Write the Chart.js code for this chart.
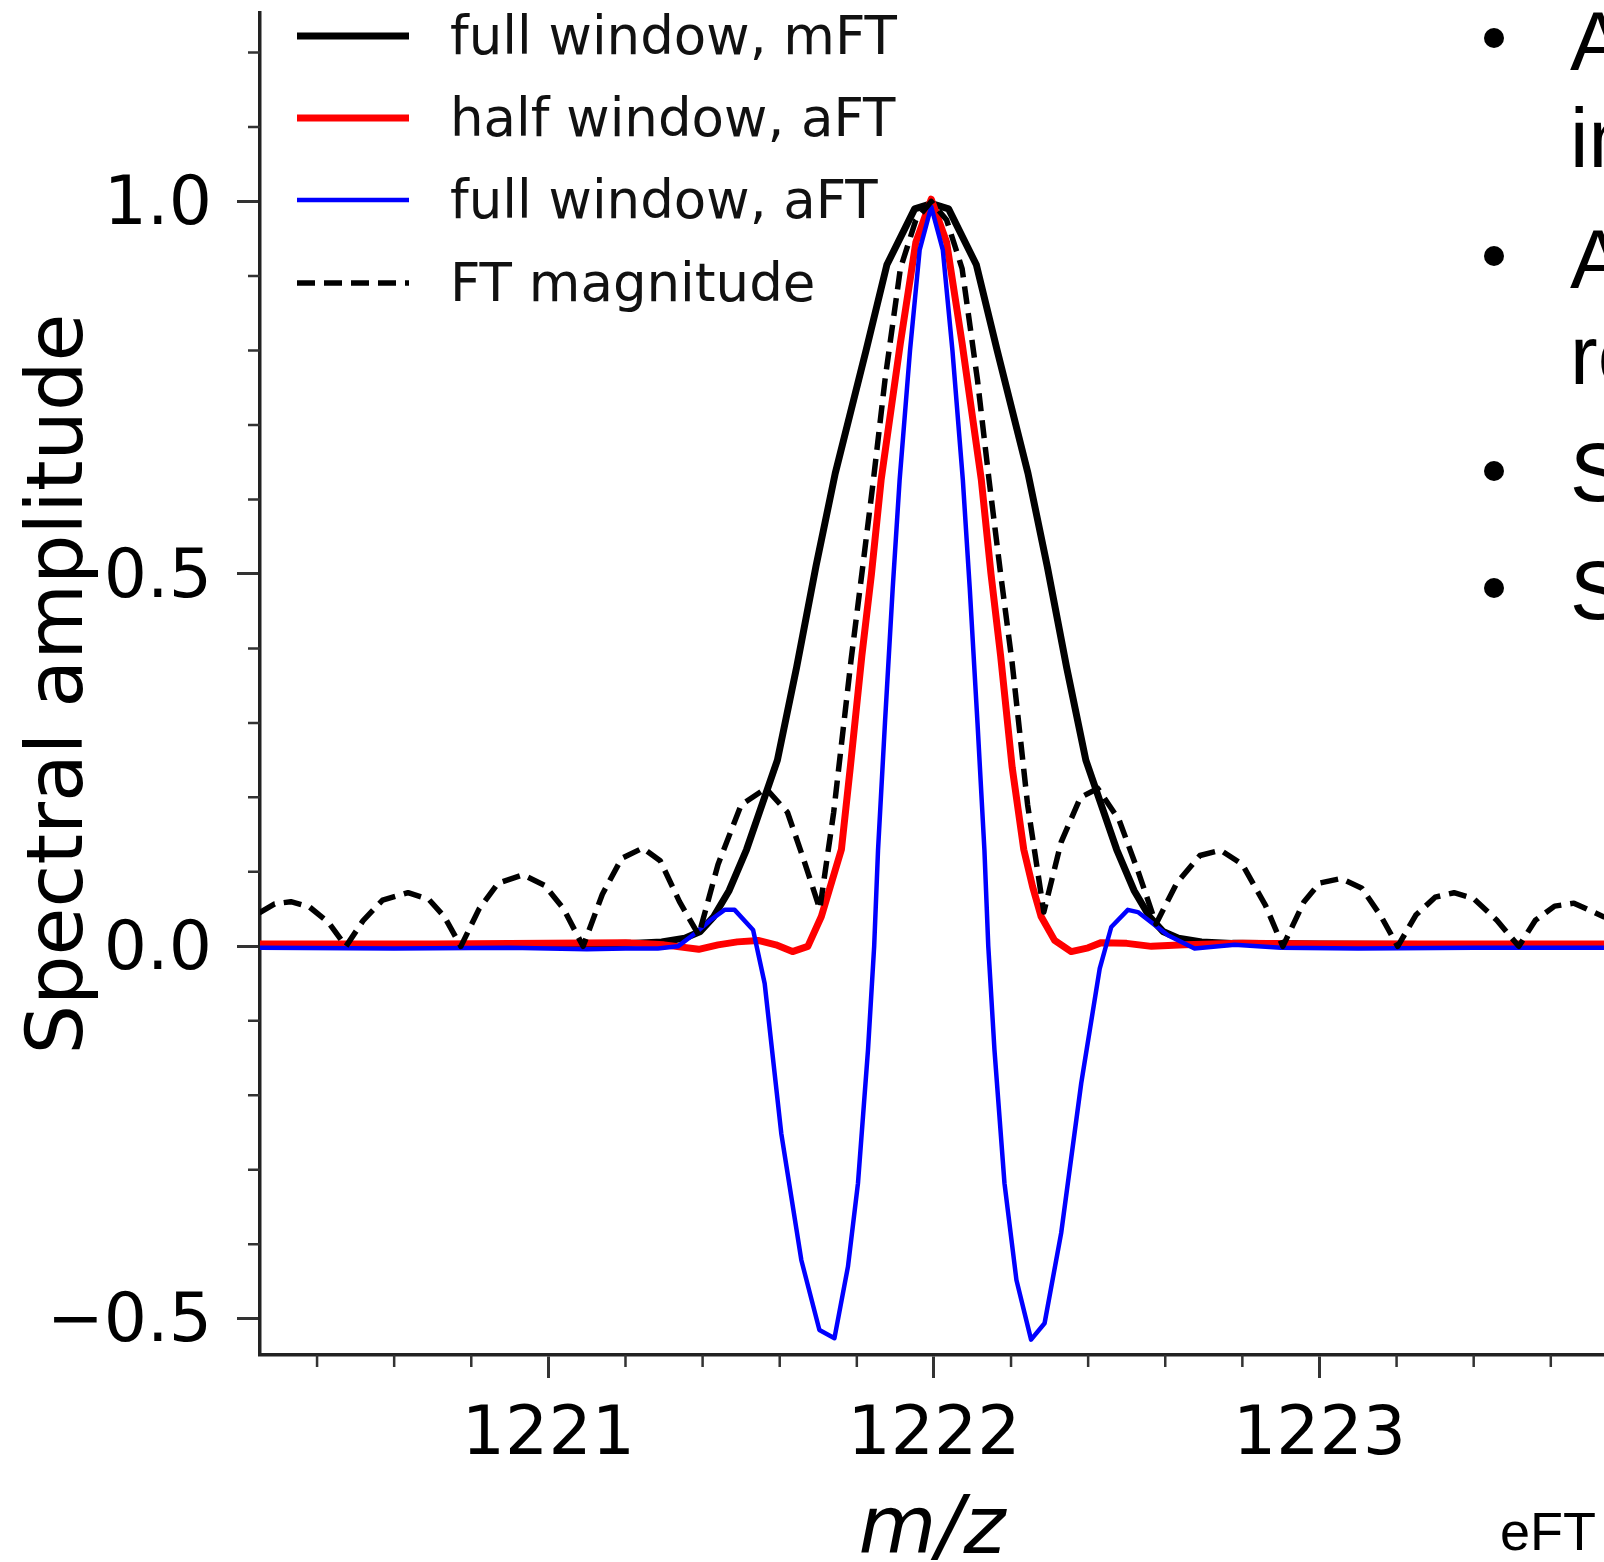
<!DOCTYPE html>
<html>
<head>
<meta charset="utf-8">
<title>Spectral amplitude vs m/z</title>
<script src="https://cdn.jsdelivr.net/npm/chart.js@4.4.1/dist/chart.umd.min.js"></script>
<style>
  html, body { margin: 0; padding: 0; background: #fff; overflow: hidden; }
  #chart { display: block; }
</style>
</head>
<body>
<canvas id="chart" width="1604" height="1562"></canvas>
<script>
// full window, mFT (black)
const mzMft = [1220.25, 1220.8, 1221.1, 1221.214, 1221.294, 1221.354, 1221.394, 1221.429, 1221.469, 1221.514,
  1221.554, 1221.594, 1221.644, 1221.694, 1221.744, 1221.824, 1221.878, 1221.95, 1221.994, 1222.038,
  1222.11, 1222.164, 1222.244, 1222.294, 1222.344, 1222.394, 1222.434, 1222.474, 1222.519, 1222.559,
  1222.594, 1222.634, 1222.694, 1222.774, 1223.0, 1223.4, 1223.74];
const ampMft = [0.001, 0.002, 0.003, 0.004, 0.006, 0.011, 0.02, 0.04, 0.075, 0.13,
  0.19, 0.25, 0.375, 0.51, 0.635, 0.80, 0.915, 0.99, 0.997, 0.99,
  0.915, 0.80, 0.635, 0.51, 0.375, 0.25, 0.19, 0.13, 0.075, 0.04,
  0.02, 0.011, 0.006, 0.004, 0.003, 0.002, 0.001];

// half window, aFT (red)
const mzHalf = [1220.25, 1220.7, 1221.0, 1221.2, 1221.3, 1221.39, 1221.44, 1221.49, 1221.544, 1221.59,
  1221.633, 1221.673, 1221.708, 1221.734, 1221.76, 1221.783, 1221.813, 1221.838, 1221.863, 1221.913,
  1221.953, 1221.993, 1222.033, 1222.073, 1222.123, 1222.148, 1222.173, 1222.203, 1222.233, 1222.256,
  1222.278, 1222.313, 1222.356, 1222.4, 1222.434, 1222.5, 1222.564, 1222.65, 1222.8, 1223.0,
  1223.4, 1223.74];
const ampHalf = [0.003, 0.003, 0.004, 0.005, 0.002, -0.004, 0.002, 0.006, 0.008, 0.002,
  -0.007, 0.0, 0.04, 0.085, 0.13, 0.24, 0.39, 0.50, 0.626, 0.81,
  0.945, 1.003, 0.945, 0.81, 0.626, 0.50, 0.39, 0.24, 0.13, 0.08,
  0.04, 0.008, -0.007, -0.002, 0.005, 0.004, 0.0, 0.002, 0.004, 0.003,
  0.003, 0.003];

// full window, aFT (blue)
const mzFull = [1220.25, 1220.6, 1220.9, 1221.1, 1221.2, 1221.284, 1221.336, 1221.379, 1221.42, 1221.457,
  1221.483, 1221.531, 1221.561, 1221.604, 1221.656, 1221.703, 1221.742, 1221.777, 1221.803, 1221.829,
  1221.845, 1221.855, 1221.873, 1221.893, 1221.911, 1221.938, 1221.963, 1221.993, 1222.023, 1222.048,
  1222.075, 1222.093, 1222.113, 1222.131, 1222.141, 1222.157, 1222.183, 1222.214, 1222.252, 1222.287,
  1222.33, 1222.382, 1222.43, 1222.46, 1222.503, 1222.529, 1222.607, 1222.676, 1222.78, 1222.9,
  1223.1, 1223.4, 1223.74];
const ampFull = [-0.002, -0.003, -0.002, -0.004, -0.003, -0.003, 0.0, 0.017, 0.035, 0.049,
  0.049, 0.022, -0.05, -0.251, -0.421, -0.515, -0.526, -0.43, -0.318, -0.139,
  0.0, 0.129, 0.30, 0.48, 0.626, 0.80, 0.935, 0.993, 0.935, 0.80,
  0.626, 0.48, 0.30, 0.129, 0.0, -0.139, -0.318, -0.448, -0.528, -0.506,
  -0.385, -0.184, -0.03, 0.026, 0.049, 0.046, 0.015, -0.003, 0.002, -0.002,
  -0.003, -0.002, -0.002];

// FT magnitude (dashed)
const mzMag = [1220.25, 1220.29, 1220.332, 1220.38, 1220.43, 1220.475, 1220.52, 1220.57, 1220.636, 1220.69,
  1220.73, 1220.773, 1220.82, 1220.87, 1220.934, 1220.99, 1221.04, 1221.09, 1221.14, 1221.19,
  1221.245, 1221.29, 1221.34, 1221.39, 1221.44, 1221.5, 1221.564, 1221.62, 1221.66, 1221.704,
  1221.74, 1221.785, 1221.813, 1221.843, 1221.873, 1221.913, 1221.953, 1221.993, 1222.033, 1222.073,
  1222.113, 1222.143, 1222.173, 1222.203, 1222.243, 1222.285, 1222.33, 1222.38, 1222.425, 1222.48,
  1222.53, 1222.576, 1222.63, 1222.69, 1222.744, 1222.8, 1222.86, 1222.905, 1222.96, 1223.0,
  1223.056, 1223.11, 1223.16, 1223.203, 1223.25, 1223.3, 1223.349, 1223.4, 1223.46, 1223.517,
  1223.56, 1223.61, 1223.66, 1223.74];
const ampMag = [0.045, 0.057, 0.060, 0.053, 0.032, 0.0, 0.035, 0.062, 0.072, 0.063,
  0.04, 0.0, 0.05, 0.085, 0.096, 0.082, 0.05, 0.0, 0.07, 0.118,
  0.132, 0.115, 0.06, 0.015, 0.11, 0.19, 0.212, 0.18, 0.12, 0.05,
  0.18, 0.384, 0.50, 0.626, 0.76, 0.91, 0.975, 1.0, 0.975, 0.91,
  0.76, 0.626, 0.50, 0.38, 0.19, 0.046, 0.14, 0.20, 0.212, 0.17,
  0.10, 0.03, 0.085, 0.122, 0.129, 0.11, 0.055, 0.0, 0.06, 0.085,
  0.091, 0.078, 0.04, 0.0, 0.042, 0.066, 0.072, 0.064, 0.035, 0.0,
  0.035, 0.054, 0.058, 0.039];

// axis ticks
const xTickValues = [1221, 1222, 1223];
const xMinorTicks = [1220.4, 1220.6, 1220.8, 1221.2, 1221.4, 1221.6, 1221.8, 1222.2, 1222.4, 1222.6, 1222.8, 1223.2, 1223.4, 1223.6];
const yTickValues = [-0.5, 0.0, 0.5, 1.0];
const yMinorTicks = [-0.4, -0.3, -0.2, -0.1, 0.1, 0.2, 0.3, 0.4, 0.6, 0.7, 0.8, 0.9, 1.1, 1.2];

const toPoints = (xs, ys) => xs.map((x, i) => ({ x: x, y: ys[i] }));

// minor ticks, in-axes legend and the clipped slide text next to the plot
const extrasPlugin = {
  id: 'extras',
  afterDraw(chart) {
    const ctx = chart.ctx;
    const area = chart.chartArea;
    const xs = chart.scales.x;
    const ys = chart.scales.y;
    ctx.save();

    ctx.strokeStyle = '#333';
    ctx.lineWidth = 2.5;
    ctx.beginPath();
    xMinorTicks.forEach(v => {
      const px = xs.getPixelForValue(v);
      ctx.moveTo(px, area.bottom);
      ctx.lineTo(px, area.bottom + 12);
    });
    yMinorTicks.forEach(v => {
      const py = ys.getPixelForValue(v);
      ctx.moveTo(area.left, py);
      ctx.lineTo(area.left - 12, py);
    });
    ctx.stroke();

    // legend, matplotlib style (no frame)
    const rowY = [36, 118, 200, 283];
    ctx.font = '53px "DejaVu Sans"';
    ctx.textBaseline = 'middle';
    ctx.textAlign = 'left';
    chart.data.datasets.forEach((ds, i) => {
      ctx.strokeStyle = ds.borderColor;
      ctx.lineWidth = ds.borderWidth;
      ctx.setLineDash(ds.borderDash || []);
      ctx.lineCap = 'butt';
      ctx.beginPath();
      ctx.moveTo(297, rowY[i]);
      ctx.lineTo(409, rowY[i]);
      ctx.stroke();
      ctx.setLineDash([]);
      ctx.fillStyle = '#111';
      ctx.fillText(ds.label, 450, rowY[i] + 4);
    });

    // slide bullets, cut off by the right edge
    ctx.fillStyle = '#000';
    [38, 256, 471, 588].forEach(y => {
      ctx.beginPath();
      ctx.arc(1494, y, 10, 0, Math.PI * 2);
      ctx.fill();
    });
    ctx.font = '83px "Liberation Sans", Arial, sans-serif';
    ctx.textBaseline = 'alphabetic';
    [['A', 70], ['in', 167], ['A', 288], ['re', 384], ['S', 501], ['S', 619]].forEach(([t, y]) => {
      ctx.fillText(t, 1570, y);
    });
    ctx.font = '54px "Liberation Sans", Arial, sans-serif';
    ctx.fillText('eFT', 1500, 1550);

    ctx.restore();
  }
};

const tickFont = { family: 'DejaVu Sans', size: 68 };

new Chart(document.getElementById('chart'), {
  type: 'line',
  data: {
    datasets: [
      {
        label: 'full window, mFT',
        data: toPoints(mzMft, ampMft),
        borderColor: '#000000',
        borderWidth: 7,
        order: 4
      },
      {
        label: 'half window, aFT',
        data: toPoints(mzHalf, ampHalf),
        borderColor: '#ff0000',
        borderWidth: 7,
        order: 3
      },
      {
        label: 'full window, aFT',
        data: toPoints(mzFull, ampFull),
        borderColor: '#0000ff',
        borderWidth: 4.5,
        order: 2
      },
      {
        label: 'FT magnitude',
        data: toPoints(mzMag, ampMag),
        borderColor: '#000000',
        borderWidth: 5.5,
        borderDash: [18, 9],
        order: 1
      }
    ]
  },
  options: {
    responsive: false,
    animation: false,
    devicePixelRatio: 1,
    layout: { padding: { top: 13, right: 0, bottom: 0, left: 0 } },
    elements: {
      point: { radius: 0 },
      line: { tension: 0, borderJoinStyle: 'round', fill: false }
    },
    plugins: {
      legend: { display: false },
      tooltip: { enabled: false }
    },
    scales: {
      x: {
        type: 'linear',
        position: 'bottom',
        min: 1220.252,
        max: 1223.738,
        afterBuildTicks: axis => { axis.ticks = xTickValues.map(v => ({ value: v })); },
        afterFit: axis => {
          axis.height = 207;
          axis.paddingLeft = 0;
          axis.paddingRight = 0;
        },
        ticks: {
          font: tickFont,
          color: '#000',
          padding: 18,
          maxRotation: 0,
          autoSkip: false,
          callback: v => String(v)
        },
        grid: { drawOnChartArea: false, drawTicks: true, tickLength: 23, tickWidth: 3, tickColor: '#333' },
        border: { display: true, color: '#222', width: 3.5 },
        title: {
          display: true,
          text: 'm/z',
          color: '#000',
          font: { family: 'DejaVu Sans', style: 'italic', size: 80, lineHeight: 1 },
          padding: { top: 0, bottom: -10 }
        }
      },
      y: {
        type: 'linear',
        min: -0.5486,
        max: 1.253,
        afterBuildTicks: axis => { axis.ticks = yTickValues.map(v => ({ value: v })); },
        afterFit: axis => {
          axis.width = 260;
          axis.paddingTop = 0;
          axis.paddingBottom = 0;
        },
        ticks: {
          font: tickFont,
          color: '#000',
          padding: 25,
          labelOffset: 5,
          callback: v => v.toFixed(1).replace('-', '\u2212')
        },
        grid: { drawOnChartArea: false, drawTicks: true, tickLength: 23, tickWidth: 3, tickColor: '#333' },
        border: { display: true, color: '#222', width: 3.5 },
        title: {
          display: true,
          text: 'Spectral amplitude',
          color: '#000',
          font: { family: 'DejaVu Sans', size: 78, lineHeight: 1.2 },
          padding: { top: 15, bottom: 0 }
        }
      }
    }
  },
  plugins: [extrasPlugin]
});
</script>
</body>
</html>
